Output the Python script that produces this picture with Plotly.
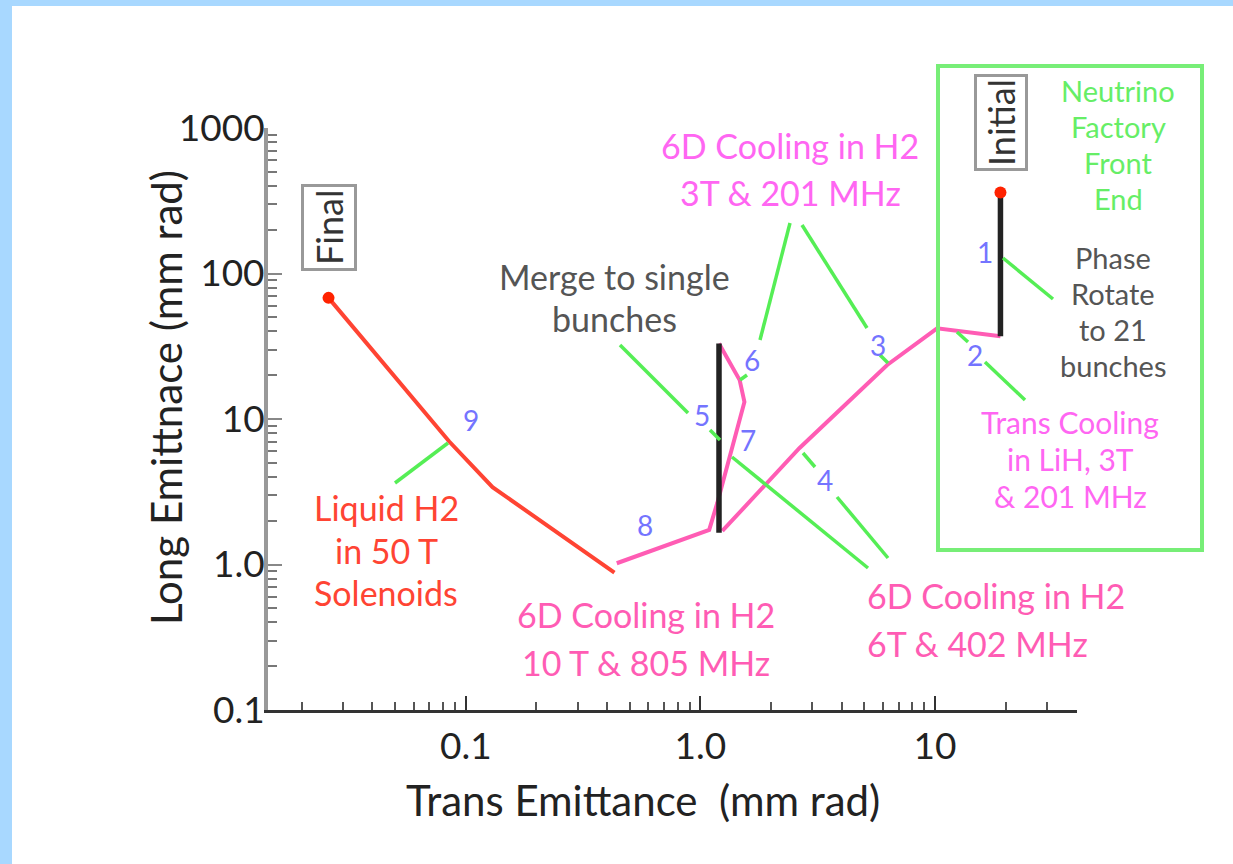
import plotly.graph_objects as go

# ---- emittance path data (mm rad) ----
rotate_x = [19.0, 19.0]
rotate_y = [360.0, 37.0]

trans_cool_x = [19.0, 10.2, 6.25, 2.64, 1.24]
trans_cool_y = [37.0, 42.0, 23.5, 6.3, 1.7]

merge_x = [1.2, 1.2]
merge_y = [1.65, 33.0]

cool6d_x = [1.2, 1.47, 1.54, 1.42, 1.30, 1.18, 1.09, 0.44]
cool6d_y = [33.0, 18.5, 13.1, 8.0, 4.7, 2.65, 1.73, 1.02]

liquid_x = [0.43, 0.13, 0.085, 0.026]
liquid_y = [0.88, 3.4, 7.0, 68.0]

end_x = [19.0, 0.026]
end_y = [360.0, 68.0]

x_ticks = [0.1, 1.0, 10]
x_tick_text = ["0.1", "1.0", "10"]
y_ticks = [0.1, 1.0, 10, 100, 1000]
y_tick_text = ["0.1", "1.0", "10", "100", "1000"]

# ---- layout geometry (pixels) ----
W, H = 1233, 864
L, R, T, B = 268, 1077, 128, 710

def fx(p):
    return (p - L) / (R - L)

def fy(p):
    return (B - p) / (B - T)

FONT = "Lato"
PINK = "#ff5cb4"
MAGENTA = "#ff66f2"
RED = "#ff4433"
GREEN = "#55ee55"
NUM = "#7474ff"
GREY = "#555555"

minor_vals = [k * 10.0 ** n for n in range(-2, 4) for k in range(2, 10)]

fig = go.Figure()

def line(x, y, color, width):
    fig.add_trace(go.Scatter(x=x, y=y, mode="lines",
                             line=dict(color=color, width=width),
                             hoverinfo="skip", showlegend=False))

line(trans_cool_x, trans_cool_y, PINK, 4)
line(cool6d_x, cool6d_y, PINK, 4)
line(liquid_x, liquid_y, RED, 4)
line(rotate_x, rotate_y, "#222222", 5.5)
line(merge_x, merge_y, "#222222", 5.5)
fig.add_trace(go.Scatter(x=end_x, y=end_y, mode="markers",
                         marker=dict(color="#ff2200", size=12),
                         hoverinfo="skip", showlegend=False))

shapes = []
# page border strips
shapes.append(dict(type="rect", xref="paper", yref="paper",
                   x0=fx(0), x1=fx(12), y0=fy(H), y1=fy(0),
                   fillcolor="#a8d8ff", line=dict(width=0), layer="below"))
shapes.append(dict(type="rect", xref="paper", yref="paper",
                   x0=fx(0), x1=fx(W), y0=fy(6), y1=fy(0),
                   fillcolor="#a8d8ff", line=dict(width=0), layer="below"))
# front-end box
shapes.append(dict(type="rect", xref="paper", yref="paper",
                   x0=fx(938), x1=fx(1202), y0=fy(550), y1=fy(66),
                   line=dict(color="#77ee77", width=4)))

# leader lines
leaders = [
    ((1003, 258), (1053, 299)),
    ((957, 332), (968, 342)),
    ((985, 362), (1025, 400)),
    ((888, 363), (880, 355)),
    ((867, 328), (802, 225)),
    ((790, 223), (760, 340)),
    ((747, 375), (740, 380)),
    ((620, 345), (688, 413)),
    ((710, 430), (720, 440)),
    ((732, 457), (868, 568)),
    ((803, 453), (815, 467)),
    ((837, 497), (888, 558)),
    ((448, 443), (395, 483)),
]
for (x0, y0), (x1, y1) in leaders:
    shapes.append(dict(type="line", xref="paper", yref="paper",
                       x0=fx(x0), y0=fy(y0), x1=fx(x1), y1=fy(y1),
                       line=dict(color=GREEN, width=3.5)))

ann = []

def text(px, py, s, color, size=34, xanchor="center", angle=0, **kw):
    ann.append(dict(x=fx(px), y=fy(py), xref="paper", yref="paper",
                    text=s, showarrow=False, xanchor=xanchor, yanchor="middle",
                    textangle=angle, font=dict(family=FONT, size=size, color=color),
                    **kw))

def block(px, rows, lines, color, size=34, xanchor="center"):
    for py, s in zip(rows, lines):
        text(px, py, s, color, size=size, xanchor=xanchor, borderpad=0)

# stage numbers
for n, (px, py) in enumerate([(985, 252), (975, 355), (878, 345), (825, 480),
                              (702, 415), (752, 360), (748, 440), (645, 525),
                              (471, 420)], start=1):
    text(px, py, str(n), NUM, size=28)

block(1118, [90, 126, 162, 198], ["Neutrino", "Factory", "Front", "End"], "#66ee66", size=29)
block(1113, [257, 293, 329, 365], ["Phase", "Rotate", "to 21", "bunches"], GREY, size=29)
block(1070, [422, 459, 496], ["Trans Cooling", "in LiH, 3T", "& 201 MHz"], MAGENTA, size=30)
block(790, [145, 192], ["6D Cooling in H2", "3T & 201 MHz"], MAGENTA)
block(614, [276, 318], ["Merge to single", "bunches"], GREY)
block(646, [614, 662], ["6D Cooling in H2", "10 T & 805 MHz"], PINK)
block(866, [595, 643], ["6D Cooling in H2", "6T & 402 MHz"], PINK, xanchor="left")
block(386, [507, 550, 592], ["Liquid H2", "in 50 T", "Solenoids"], RED)

# start / end tags
text(1001, 123, "Initial", "#333333", size=36, angle=-90,
     bordercolor="#999999", borderwidth=3, borderpad=2, bgcolor="white")
text(329, 228, "Final", "#333333", size=36, angle=-90,
     bordercolor="#999999", borderwidth=3, borderpad=3, bgcolor="white")

# axis titles
text(643, 800, "Trans Emittance&nbsp;&nbsp;(mm rad)", "#222222", size=42)
text(166, 398, "Long Emittnace (mm rad)", "#222222", size=42, angle=-90)

axis_common = dict(type="log", showgrid=False, zeroline=False, showline=True,
                   ticks="inside", ticklen=14, tickwidth=2,
                   tickfont=dict(family=FONT, size=37, color="#222222"))

fig.update_layout(
    width=W, height=H,
    margin=dict(l=L, r=W - R, t=T, b=H - B),
    paper_bgcolor="white", plot_bgcolor="white",
    shapes=shapes, annotations=ann,
    xaxis=dict(range=[-1.843, 1.605], tickvals=x_ticks, ticktext=x_tick_text,
               linecolor="#333333", linewidth=3, tickcolor="#333333",
               ticklabelstandoff=2,
               minor=dict(tickvals=minor_vals, ticks="inside", ticklen=8,
                          tickwidth=2, tickcolor="#555555"),
               **axis_common),
    yaxis=dict(range=[-1, 3], tickvals=y_ticks, ticktext=y_tick_text,
               linecolor="#999999", linewidth=4, tickcolor="#888888",
               ticklabelstandoff=-8,
               minor=dict(tickvals=minor_vals, ticks="inside", ticklen=9,
                          tickwidth=2, tickcolor="#777777"),
               **axis_common),
)

fig.write_html("out.html")
